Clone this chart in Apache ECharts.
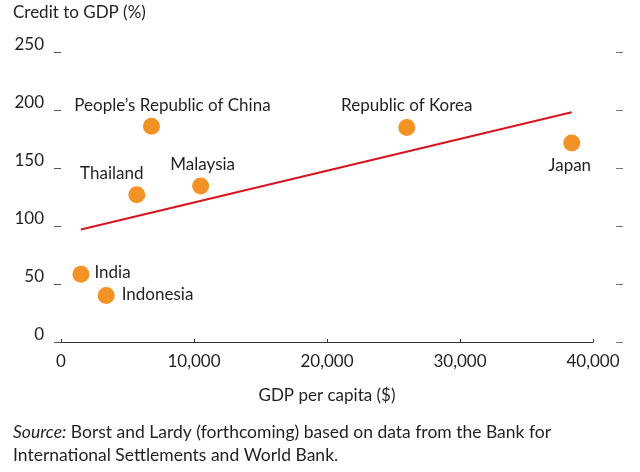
<!DOCTYPE html>
<html>
<head>
<meta charset="utf-8">
<script src="https://cdn.jsdelivr.net/npm/echarts@6/dist/echarts.min.js"></script>
<style>
html,body{margin:0;padding:0;background:#fff;}
#c{width:640px;height:472px;}
</style>
</head>
<body>
<div id="c"></div>
<script>
const countries = ["People\u2019s Republic of China", "Thailand", "Malaysia", "Republic of Korea", "Japan", "India", "Indonesia"];
const gdpPerCapita = [6800, 5700, 10500, 26000, 38400, 1500, 3400];
const creditToGdp = [186, 127, 134.5, 185, 171.5, 58.5, 40];
const trendX = [1500, 38400];
const trendY = [97, 198];
const yTicks = [0, 50, 100, 150, 200, 250];
const xTicks = [0, 10000, 20000, 30000, 40000];

const FONT = 'Lato';
const TXT = '#231f20';
const FS = 17;

const labelStyle = {
  "People\u2019s Republic of China": {position: 'top', offset: [21, 1]},
  "Thailand": {position: 'top', offset: [-25, 1]},
  "Malaysia": {position: 'top', offset: [2, 1]},
  "Republic of Korea": {position: 'top', offset: [0, 0]},
  "Japan": {position: 'bottom', offset: [-2, 0]},
  "India": {position: 'right', offset: [0, -2]},
  "Indonesia": {position: 'right', offset: [2, -1]}
};

const scatterData = countries.map((n, i) => ({
  name: n,
  value: [gdpPerCapita[i], creditToGdp[i]],
  label: Object.assign({show: true, formatter: '{b}', distance: 5,
    fontFamily: FONT, fontSize: FS, color: TXT}, labelStyle[n])
}));

const trendData = trendX.map((x, i) => [x, trendY[i]]);

const chart = echarts.init(document.getElementById('c'), null, {renderer: 'canvas'});
chart.setOption({
  backgroundColor: '#fff',
  animation: false,
  textStyle: {fontFamily: FONT, color: TXT},
  grid: {left: 61, right: 47, top: 52, bottom: 130, containLabel: false},
  xAxis: {
    type: 'value', min: xTicks[0], max: xTicks[xTicks.length - 1], interval: 10000,
    axisLine: {show: true, lineStyle: {color: '#333', width: 1}},
    axisTick: {show: true, inside: true, length: 3, lineStyle: {color: '#333'}},
    splitLine: {show: false},
    axisLabel: {fontFamily: FONT, fontSize: FS, color: TXT, margin: 11,
      formatter: v => v.toLocaleString('en-US')},
    name: 'GDP per capita ($)', nameLocation: 'middle', nameGap: 45,
    nameTextStyle: {fontFamily: FONT, fontSize: FS, color: TXT}
  },
  yAxis: [{
    type: 'value', min: yTicks[0], max: yTicks[yTicks.length - 1], interval: 50,
    position: 'left', offset: 6,
    axisLine: {show: false},
    axisTick: {show: true, length: 7, lineStyle: {color: '#555'}},
    splitLine: {show: false},
    axisLabel: {fontFamily: FONT, fontSize: FS, color: TXT, margin: 11,
      verticalAlign: 'bottom', lineHeight: 14}
  }, {
    type: 'value', min: yTicks[0], max: yTicks[yTicks.length - 1], interval: 50,
    position: 'right', offset: 23,
    axisLine: {show: false},
    axisTick: {show: true, length: 7, lineStyle: {color: '#777'}},
    splitLine: {show: false},
    axisLabel: {show: false}
  }],
  graphic: [{
    type: 'text', left: 13, top: 4,
    style: {text: 'Credit to GDP (%)', fontFamily: FONT, fontSize: FS, fill: TXT}
  }, {
    type: 'text', left: 13, top: 421,
    style: {
      text: '{i|Source:} Borst and Lardy (forthcoming) based on data from the Bank for\nInternational Settlements and World Bank.',
      fontFamily: FONT, fontSize: 17.5, fill: TXT, lineHeight: 23,
      rich: {i: {fontStyle: 'italic', fontFamily: FONT, fontSize: 17.5, fill: TXT}}
    }
  }],
  series: [{
    type: 'line', data: trendData, symbol: 'none', z: 2,
    lineStyle: {color: '#d7141e', width: 2}
  }, {
    type: 'scatter', data: scatterData, symbolSize: 17, z: 3,
    itemStyle: {color: '#f39325', opacity: 1}
  }]
});
</script>
</body>
</html>
